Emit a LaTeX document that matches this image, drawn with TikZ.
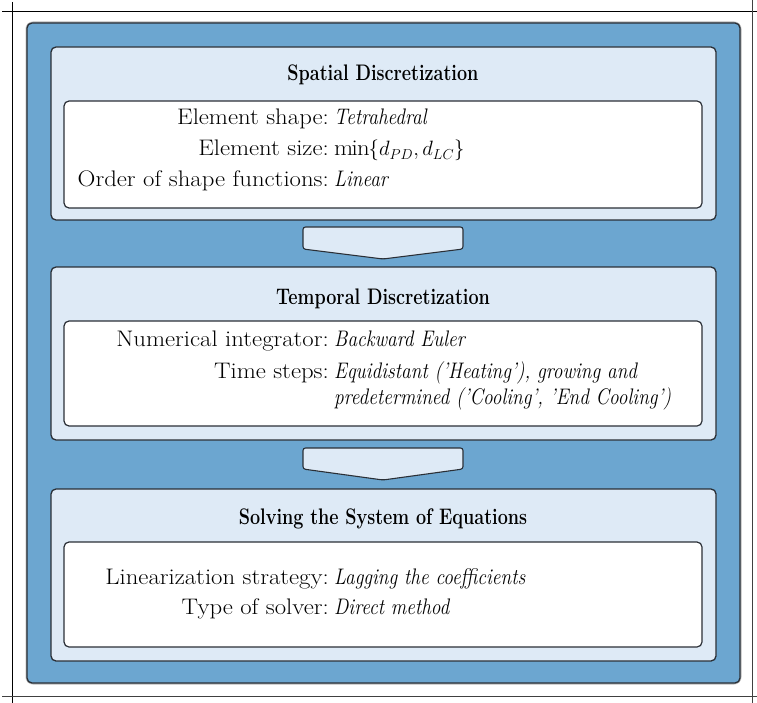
\documentclass[tikz,border=0pt]{standalone}
\usepackage{fontspec}
\setmainfont{Latin Modern Roman}[
  UprightFeatures={FakeStretch=1.1},
  ItalicFeatures={FakeStretch=0.86},
  BoldFeatures={FakeStretch=0.8}]
\definecolor{bluebg}{HTML}{6CA6D0}
\definecolor{panelbg}{HTML}{DEEAF6}
\definecolor{edge}{HTML}{2A2F36}
\begin{document}
\fontsize{22.5pt}{27pt}\selectfont
\begin{tikzpicture}[x=1pt,y=-1pt,
  outerbox/.style={fill=bluebg, draw=edge, line width=1.3pt, rounded corners=5pt},
  panel/.style={fill=panelbg, draw=edge, line width=1.3pt, rounded corners=5pt},
  inner/.style={fill=white, draw=edge, line width=1.2pt, rounded corners=5pt},
  flow/.style={fill=panelbg, draw=edge, line width=1.1pt, rounded corners=2.5pt},
  frameline/.style={line width=1pt},
  title/.style={font=\bfseries, anchor=base, inner sep=0pt},
  key/.style={anchor=base east, inner sep=0pt},
  val/.style={anchor=base west, inner sep=0pt, font=\itshape}]
  \useasboundingbox (0,0) rectangle (757,703);

  % page frame
  \coordinate (ftl) at (2,12);   \coordinate (ftr) at (757,12);
  \coordinate (fbl) at (2,696);  \coordinate (fbr) at (757,696);
  \coordinate (flt) at (12,2);   \coordinate (flb) at (12,703);
  \coordinate (frt) at (752,0);  \coordinate (frb) at (752,703);
  \draw[frameline] (ftl) -- (ftr);
  \draw[frameline] (flt) -- (flb);
  \draw[frameline, black!75] (fbl) -- (fbr);
  \draw[frameline, black!75] (frt) -- (frb);

  % outer container with a soft edge
  \draw[gray!55, line width=3pt, rounded corners=6pt] (27,23) rectangle (740,683);
  \draw[outerbox] (27,23) rectangle (740,683);

  % stage panels
  \draw[panel] (51,47) rectangle (716,220);
  \draw[inner] (64,101) rectangle (702,208);
  \draw[panel] (51,267) rectangle (716,440);
  \draw[inner] (64,321) rectangle (702,426);
  \draw[panel] (51,489) rectangle (716,661);
  \draw[inner] (64,542) rectangle (702,647);

  % flow arrows between stages
  \draw[flow] (303,227) -- (463,227) -- (463,249) -- (383,259) -- (303,249) -- cycle;
  \draw[flow] (303,448) -- (463,448) -- (463,469) -- (383,480) -- (303,469) -- cycle;

  % stage 1
  \node[title] (t1) at (383,81) {Spatial Discretization};
  \node[key] (k11) at (329,125) {Element shape:};
  \node[val] (v11) at (334,125) {Tetrahedral};
  \node[key] (k12) at (329,156) {Element size:};
  \node[val, font=\upshape] (v12) at (334,156) {$\min\{d_{PD}, d_{LC}\}$};
  \node[key] (k13) at (329,187) {Order of shape functions:};
  \node[val] (v13) at (334,187) {Linear};

  % stage 2
  \node[title] (t2) at (383,304) {Temporal Discretization};
  \node[key] (k21) at (329,346) {Numerical integrator:};
  \node[val] (v21) at (334,346) {Backward Euler};
  \node[key] (k22) at (329,378) {Time steps:};
  \node[val] (v22) at (334,378) {Equidistant ('Heating'), growing and};
  \node[val] (v23) at (334,404) {predetermined ('Cooling', 'End Cooling')};

  % stage 3
  \node[title] (t3) at (383,524) {Solving the System of Equations};
  \node[key] (k31) at (329,584) {Linearization strategy:};
  \node[val] (v31) at (334,584) {Lagging the coefficients};
  \node[key] (k32) at (329,614) {Type of solver:};
  \node[val] (v32) at (334,614) {Direct method};
\end{tikzpicture}
\end{document}
